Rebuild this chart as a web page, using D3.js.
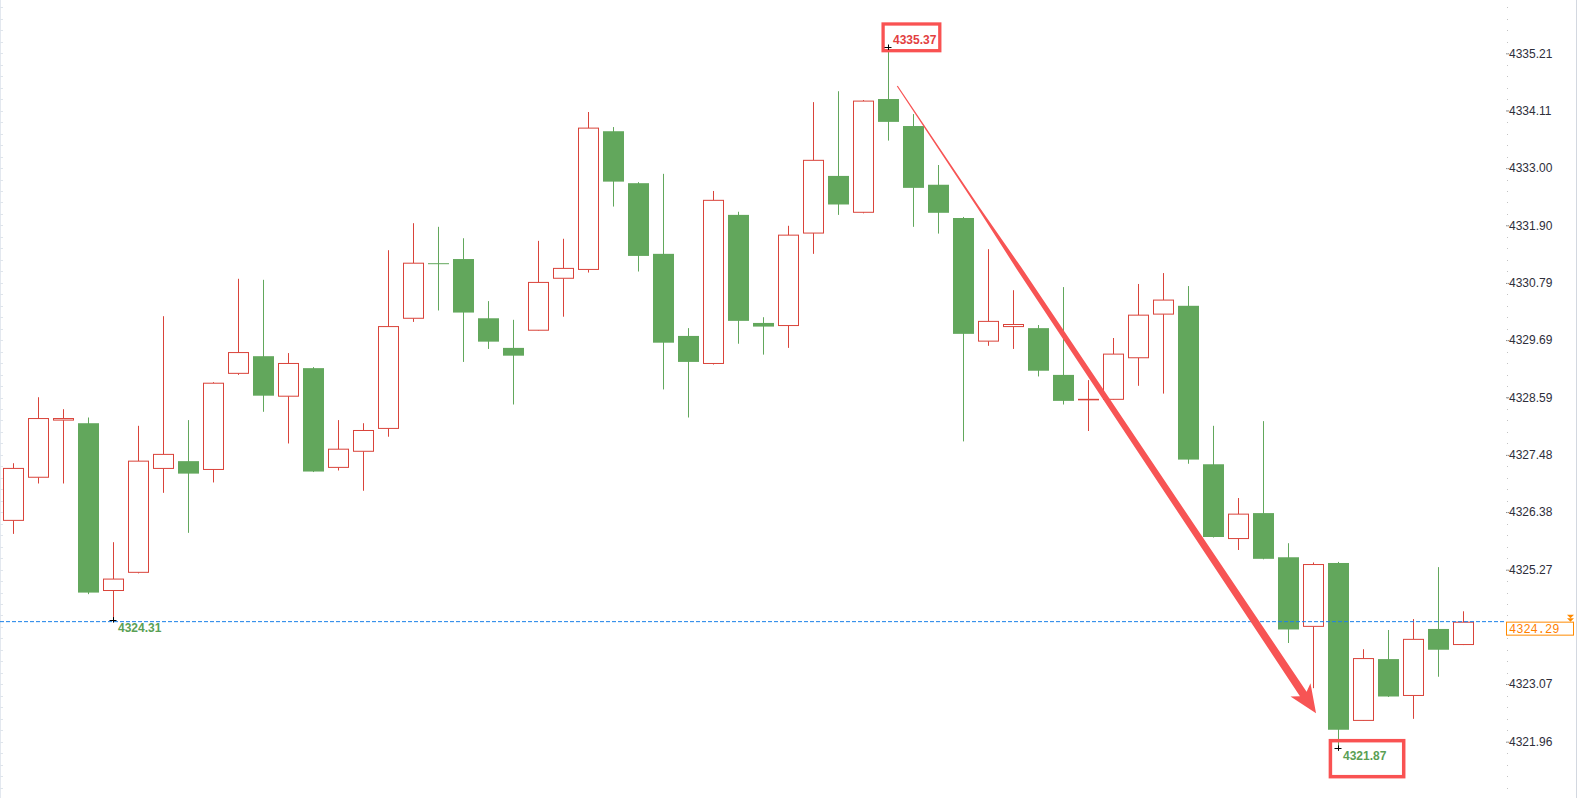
<!DOCTYPE html>
<html>
<head>
<meta charset="utf-8">
<script src="https://cdn.jsdelivr.net/npm/d3@7"></script>
<style>
  html, body { margin: 0; padding: 0; background: #fff; overflow: hidden; }
  svg { display: block; font-family: "Liberation Sans", Arial, sans-serif; }
</style>
</head>
<body>
<svg id="chart" width="1579" height="798"></svg>
<script>
//////////////////////////////////////////////
// Data //////////////////////////////////////
//////////////////////////////////////////////
// one candle per bar, left to right
var open = [4326.22, 4327.05, 4328.15, 4328.09, 4324.87, 4325.22, 4327.22, 4327.36, 4327.20, 4329.05,
            4329.38, 4328.61, 4329.15, 4327.24, 4327.55, 4327.99, 4330.11, 4331.17, 4331.25, 4330.11,
            4329.54, 4329.88, 4330.88, 4331.05, 4333.71, 4332.71, 4331.35, 4329.77, 4329.24, 4332.10,
            4330.02, 4329.97, 4331.75, 4332.85, 4332.15, 4334.33, 4333.81, 4332.68, 4332.04, 4329.67,
            4329.95, 4329.92, 4329.02, 4328.54, 4328.55, 4329.35, 4330.19, 4330.35, 4327.30, 4325.87,
            4326.36, 4325.51, 4324.18, 4325.40, 4322.37, 4323.55, 4322.85, 4324.13, 4323.83];
var high = [4327.32, 4328.59, 4328.36, 4328.20, 4325.80, 4328.04, 4330.15, 4328.15, 4328.88, 4330.87,
            4330.85, 4329.44, 4329.17, 4328.15, 4328.09, 4331.42, 4331.94, 4331.87, 4331.65, 4330.44,
            4330.08, 4331.60, 4331.64, 4334.08, 4333.79, 4332.73, 4332.89, 4329.92, 4332.56, 4332.16,
            4330.13, 4331.89, 4334.27, 4334.48, 4334.31, 4335.37, 4334.04, 4333.06, 4332.06, 4331.44,
            4330.65, 4329.98, 4330.71, 4328.92, 4329.73, 4330.77, 4330.98, 4330.73, 4328.04, 4326.65,
            4328.13, 4325.78, 4325.41, 4325.42, 4323.74, 4324.11, 4324.32, 4325.32, 4324.47];
var low  = [4325.96, 4326.93, 4326.93, 4324.80, 4324.31, 4325.20, 4326.75, 4325.98, 4326.95, 4329.02,
            4328.31, 4327.70, 4327.15, 4327.18, 4326.79, 4327.83, 4330.04, 4330.26, 4329.27, 4329.52,
            4328.45, 4329.87, 4330.14, 4330.99, 4332.26, 4331.01, 4328.74, 4328.20, 4329.22, 4329.62,
            4329.41, 4329.54, 4331.35, 4332.10, 4332.13, 4333.53, 4331.87, 4331.74, 4327.74, 4329.58,
            4329.52, 4328.99, 4328.45, 4327.94, 4328.54, 4328.81, 4328.66, 4327.31, 4325.89, 4325.65,
            4325.47, 4323.86, 4322.99, 4321.87, 4322.36, 4322.82, 4322.40, 4323.21, 4323.82];
var close = [4327.22, 4328.18, 4328.18, 4324.83, 4325.09, 4327.36, 4327.49, 4327.12, 4328.86, 4329.45,
             4328.62, 4329.24, 4327.16, 4327.59, 4327.95, 4329.95, 4331.17, 4331.16, 4330.22, 4329.66,
             4329.39, 4330.80, 4331.07, 4333.77, 4332.74, 4331.31, 4329.64, 4329.27, 4332.38, 4330.06,
             4329.95, 4331.71, 4333.15, 4332.30, 4334.29, 4333.89, 4332.62, 4332.14, 4329.81, 4330.05,
             4329.99, 4329.10, 4328.52, 4328.55, 4329.42, 4330.17, 4330.46, 4327.39, 4325.90, 4326.34,
             4325.48, 4324.12, 4325.37, 4322.19, 4323.56, 4322.83, 4323.93, 4323.73, 4324.26];

// price axis labels
var yTicks = [4321.96, 4323.07, 4325.27, 4326.38, 4327.48, 4328.59, 4329.69,
              4330.79, 4331.90, 4333.00, 4334.11, 4335.21, 4336.31];

var lastPrice = 4324.29;

// marked extremes: [bar index, price]
var markHigh = [35, 4335.37];
var markLow = [53, 4321.87];
var markLeft = [4, 4324.31];

// hand drawn arrow: [bar index, price]
var arrowFrom = [35.36, 4334.58];
var arrowTo = [52.11, 4322.51];

//////////////////////////////////////////////
// Chart Config //////////////////////////////
//////////////////////////////////////////////
var width = 1579, height = 798;
var upColor = "#d9433a", downColor = "#62a75c";
var axisX = 1506;

var svg = d3.select("#chart");

var x = d3.scaleBand()
    .domain(d3.range(open.length))
    .range([0.8, 1475.8])
    .paddingInner(0.2)
    .paddingOuter(0.1);

var xIdx = d3.scaleLinear()
    .domain([0, open.length - 1])
    .range([x(0) + x.bandwidth() / 2, x(open.length - 1) + x.bandwidth() / 2]);

var y = d3.scaleLinear().domain([4321.96, 4335.21]).range([741.7, 53.3]);

// minor steps, 5 per label step
var minorStep = (4335.21 - 4321.96) / 60;
var minors = d3.range(-6, 66).map(function(k) { return 4321.96 + k * minorStep; })
    .filter(function(v) { return y(v) > -2 && y(v) < height + 2; });

//////////////////////////////////////////////
// Frame /////////////////////////////////////
//////////////////////////////////////////////
// left edge ruler
svg.append("line")
    .attr("x1", 0.5).attr("x2", 0.5).attr("y1", 0).attr("y2", height)
    .attr("stroke", "#e3e8ef");
svg.append("g").selectAll("line").data(minors).join("line")
    .attr("x1", 0).attr("x2", 3)
    .attr("y1", function(d) { return Math.round(y(d)) + 0.5; })
    .attr("y2", function(d) { return Math.round(y(d)) + 0.5; })
    .attr("stroke", "#dfe5ec");

// right edge
svg.append("line")
    .attr("x1", 1576.5).attr("x2", 1576.5).attr("y1", 0).attr("y2", height)
    .attr("stroke", "#d3d8e0");

// price axis
var yAxis = d3.axisRight(y)
    .tickValues(yTicks)
    .tickFormat(d3.format(".2f"))
    .tickSize(3)
    .tickPadding(0);

var yAxisEl = svg.append("g")
    .attr("class", "y axis")
    .attr("transform", "translate(" + axisX + ",0)")
    .call(yAxis);
yAxisEl.select(".domain").remove();
yAxisEl.selectAll(".tick line").attr("stroke", "#8a8a8a");
yAxisEl.selectAll(".tick text")
    .attr("fill", "#2e2e3a")
    .style("font-size", "12px")
    .style("font-family", "'Liberation Sans', Arial, sans-serif");

// minor dots on the axis
svg.append("g").selectAll("rect").data(minors).join("rect")
    .attr("x", axisX + 1)
    .attr("y", function(d) { return Math.round(y(d)); })
    .attr("width", 1).attr("height", 1)
    .attr("fill", "#c4c4c4");

//////////////////////////////////////////////
// Candles ///////////////////////////////////
//////////////////////////////////////////////
var candles = d3.range(open.length).map(function(i) {
  return { i: i, o: open[i], h: high[i], l: low[i], c: close[i] };
});

var g = svg.append("g").attr("class", "candles");

candles.forEach(function(d) {
  var cx = Math.floor(x(d.i) + x.bandwidth() / 2);
  var up = d.c >= d.o;
  var col = up ? upColor : downColor;
  var top = y(Math.max(d.o, d.c)), bot = y(Math.min(d.o, d.c));

  if (up) {
    // hollow body, wick stops at the body
    g.append("line")
        .attr("x1", cx + 0.5).attr("x2", cx + 0.5)
        .attr("y1", y(d.h)).attr("y2", top)
        .attr("stroke", col);
    g.append("line")
        .attr("x1", cx + 0.5).attr("x2", cx + 0.5)
        .attr("y1", bot).attr("y2", y(d.l))
        .attr("stroke", col);
    g.append("rect")
        .attr("x", cx - 9.5).attr("y", top)
        .attr("width", 20).attr("height", Math.max(bot - top, 0.5))
        .attr("fill", "#fff")
        .attr("stroke", col).attr("stroke-width", 1);
  } else {
    g.append("line")
        .attr("x1", cx + 0.5).attr("x2", cx + 0.5)
        .attr("y1", y(d.h)).attr("y2", y(d.l))
        .attr("stroke", col);
    g.append("rect")
        .attr("x", cx - 10).attr("y", top)
        .attr("width", 21).attr("height", Math.max(bot - top, 1))
        .attr("fill", col);
  }
});

//////////////////////////////////////////////
// Last price ////////////////////////////////
//////////////////////////////////////////////
var yl = y(lastPrice);
svg.append("line")
    .attr("x1", 0).attr("x2", axisX)
    .attr("y1", yl + 1).attr("y2", yl + 1)
    .attr("stroke", "#1a80e8")
    .attr("stroke-dasharray", "4,2");

svg.append("rect")
    .attr("x", axisX + 0.5).attr("y", yl + 1.5)
    .attr("width", 67).attr("height", 13)
    .attr("fill", "#fff")
    .attr("stroke", "#ff8a00").attr("stroke-width", 1);
svg.append("text")
    .attr("x", axisX + 3).attr("y", yl + 12)
    .attr("fill", "#ff7f00")
    .style("font-family", "'Liberation Mono', 'DejaVu Sans Mono', monospace")
    .style("font-size", "12px")
    .text(d3.format(".2f")(lastPrice));

// small double marker
[0, 3.5].forEach(function(off) {
  svg.append("path")
      .attr("d", d3.line()([[1567, yl - 6 + off], [1574, yl - 6 + off], [1570.5, yl - 2.5 + off]]) + "Z")
      .attr("fill", "#ff8a00");
});

//////////////////////////////////////////////
// Annotations ///////////////////////////////
//////////////////////////////////////////////
function cross(px, py) {
  svg.append("line").attr("x1", px - 3.5).attr("x2", px + 3.5)
      .attr("y1", Math.round(py) + 0.5).attr("y2", Math.round(py) + 0.5).attr("stroke", "#000");
  svg.append("line").attr("x1", px + 0.5).attr("x2", px + 0.5)
      .attr("y1", py - 2.5).attr("y2", py + 3).attr("stroke", "#000");
}

// left low label
(function() {
  var px = Math.floor(xIdx(markLeft[0])), py = y(markLeft[1]);
  cross(px, py);
  svg.append("text")
      .attr("x", px + 5).attr("y", py + 12.8)
      .attr("fill", "#5a9f55")
      .style("font-size", "12px").style("font-weight", "bold")
      .text(d3.format(".2f")(markLeft[1]));
})();

// top high box
(function() {
  var px = Math.floor(xIdx(markHigh[0])), py = y(markHigh[1]);
  svg.append("rect")
      .attr("x", px - 4.9).attr("y", py - 21)
      .attr("width", 56.7).attr("height", 26.7)
      .attr("fill", "none")
      .attr("stroke", "#f95252").attr("stroke-width", 3.3);
  cross(px, py + 2);
  svg.append("text")
      .attr("x", px + 5).attr("y", py - 0.8)
      .attr("fill", "#e2403f")
      .style("font-size", "12px").style("font-weight", "bold")
      .text(d3.format(".2f")(markHigh[1]));
})();

// bottom low box
(function() {
  var px = Math.floor(xIdx(markLow[0])), py = y(markLow[1]);
  svg.append("rect")
      .attr("x", px - 7.6).attr("y", py - 5.7)
      .attr("width", 73.3).attr("height", 36)
      .attr("fill", "none")
      .attr("stroke", "#f95252").attr("stroke-width", 3.5);
  cross(px, py + 1.5);
  svg.append("text")
      .attr("x", px + 5).attr("y", py + 13.6)
      .attr("fill", "#5a9f55")
      .style("font-size", "12px").style("font-weight", "bold")
      .text(d3.format(".2f")(markLow[1]));
})();

// tapered arrow
(function() {
  var s = [xIdx(arrowFrom[0]), y(arrowFrom[1])];
  var t = [xIdx(arrowTo[0]), y(arrowTo[1])];
  var dx = t[0] - s[0], dy = t[1] - s[1];
  var len = Math.sqrt(dx * dx + dy * dy);
  var ux = dx / len, uy = dy / len;
  var px = -uy, py = ux;
  var headLen = 28, headW = 12, notch = 23;
  // shaft half-widths along the way
  var prof = [[0, 0.6], [0.2, 1.0], [0.3, 2.4], [1, 4.0]];
  var shaftLen = len - notch;
  var left = prof.map(function(p) {
    var d = p[0] * shaftLen;
    return [s[0] + ux * d + px * p[1], s[1] + uy * d + py * p[1]];
  });
  var right = prof.map(function(p) {
    var d = p[0] * shaftLen;
    return [s[0] + ux * d - px * p[1], s[1] + uy * d - py * p[1]];
  }).reverse();
  var b = [t[0] - ux * headLen, t[1] - uy * headLen];
  var pts = left.concat([
    [b[0] + px * headW, b[1] + py * headW],
    t,
    [b[0] - px * headW, b[1] - py * headW]
  ]).concat(right);
  svg.append("path")
      .attr("d", d3.line()(pts) + "Z")
      .attr("fill", "#f75454");
})();
</script>
</body>
</html>
